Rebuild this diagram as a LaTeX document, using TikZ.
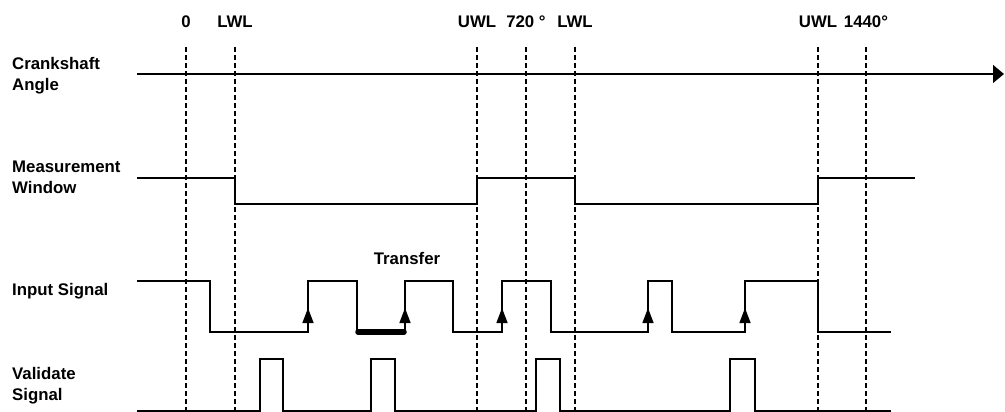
\documentclass[tikz,border=0pt]{standalone}
\usepackage{fontspec}
\setmainfont{Liberation Sans}
\usetikzlibrary{arrows.meta}

\begin{document}
\begin{tikzpicture}[x=1pt,y=-1pt,>={Triangle[length=15pt,width=11pt]},
  every node/.style={font=\fontsize{16.8}{21}\selectfont\bfseries, inner sep=0pt},
  wave/.style={line width=1.4pt},
  guide/.style={line width=1.3pt, dash pattern=on 5pt off 3pt}]
\useasboundingbox (0,0) rectangle (1005,412);
% angle marks
\foreach \x/\t/\n in {186/0/zero, 235/LWL/lwla, 477/UWL/uwla, 526/{720 °}/deg, 575/LWL/lwlb, 818/UWL/uwlb, 866/{1440°}/degb} {
  \draw[guide] (\x,47) -- (\x,412);
  \node[anchor=base] (top-\n) at (\x,28) {\t};
}
% row labels
\node[anchor=north west, align=left] (crank) at (12,57.5) {Crankshaft\\Angle};
\node[anchor=north west, align=left] (window) at (12,160.5) {Measurement\\Window};
\node[anchor=base west] (input) at (12,295) {Input Signal};
\node[anchor=north west, align=left] (valid) at (12,367.5) {Validate\\Signal};
% crankshaft axis
\draw[line width=1.4pt, -{Triangle[length=11pt,width=18pt]}] (137,74) -- (1004,74);
% measurement window
\draw[wave] (137,178) -| (235,204) -| (477,178) -| (575,204) -| (818,178) -- (915,178);
% input signal
\draw[wave] (137,281) -| (210,332) -| (308,281) -| (357,332) -| (405,281) -| (453,332)
  -| (502,281) -| (551,332) -| (648,281) -| (672,332) -| (745,281) -| (818,332) -- (891,332);
\foreach \x in {308,405,502,648,745}
  \draw[->, line width=1.4pt] (\x,332) -- (\x,308);
\draw[line width=5.5pt, line cap=round] (358,332) -- (404,332);
\node[anchor=base] (transfer) at (407,264) {Transfer};
% validate signal
\draw[wave] (137,411) -| (260,359) -| (283,411) -| (371,359) -| (395,411) -| (536,359)
  -| (560,411) -| (730,359) -| (755,411) -- (891,411);
\end{tikzpicture}
\end{document}
